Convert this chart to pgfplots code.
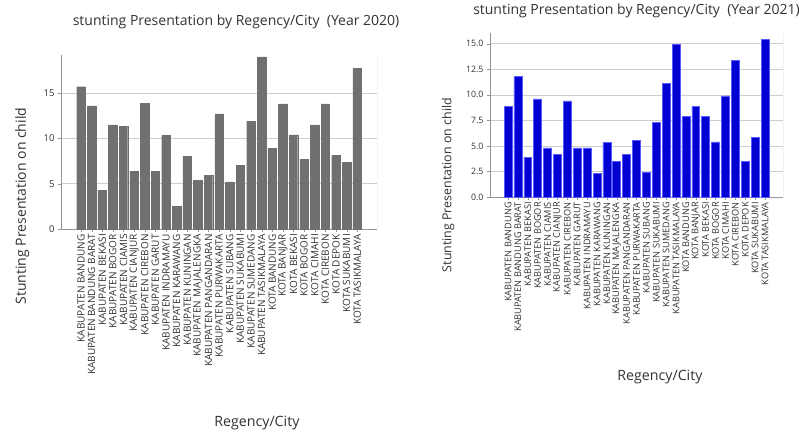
\documentclass[border=0pt]{standalone}
\usepackage{pgfplots}
\pgfplotsset{compat=1.18}
\usepackage{fontspec}
\setmainfont{Open Sans}
\definecolor{bargray}{RGB}{112,112,112}
\definecolor{barblue}{RGB}{0,0,210}
\definecolor{edgeblue}{RGB}{90,90,255}
\definecolor{gridc}{RGB}{205,205,205}
\definecolor{spine}{RGB}{150,150,150}
\definecolor{txt}{RGB}{50,50,50}
\begin{document}
\begin{tikzpicture}
\path[use as bounding box] (0pt,0pt) rectangle (802pt,432pt);
\pgfplotsset{
  common/.style={
    scale only axis,
    axis x line*=bottom, axis y line*=left,
    axis line style={-, draw=spine},
    ybar, ymin=0,
    xtick=data,
    xticklabels={KABUPATEN BANDUNG,KABUPATEN BANDUNG BARAT,KABUPATEN BEKASI,KABUPATEN BOGOR,KABUPATEN CIAMIS,KABUPATEN CIANJUR,KABUPATEN CIREBON,KABUPATEN GARUT,KABUPATEN INDRAMAYU,KABUPATEN KARAWANG,KABUPATEN KUNINGAN,KABUPATEN MAJALENGKA,KABUPATEN PANGANDARAN,KABUPATEN PURWAKARTA,KABUPATEN SUBANG,KABUPATEN SUKABUMI,KABUPATEN SUMEDANG,KABUPATEN TASIKMALAYA,KOTA BANDUNG,KOTA BANJAR,KOTA BEKASI,KOTA BOGOR,KOTA CIMAHI,KOTA CIREBON,KOTA DEPOK,KOTA SUKABUMI,KOTA TASIKMALAYA},
    x tick label style={rotate=90, anchor=east, font=\fontsize{10}{10}\selectfont, text=txt, inner sep=2pt},
    y tick label style={font=\fontsize{9.5}{10}\selectfont, text=txt},
    /pgf/number format/assume math mode=true,
    tick align=outside, major tick length=3pt,
    tick style={draw=spine},
    ymajorgrids, grid style={draw=gridc, line width=0.6pt},
    bar width=0.8, bar shift=0pt,
    label style={text=txt},
  }
}
\begin{axis}[common,
  at={(61pt,203pt)}, anchor=south west,
  width=316pt, height=174pt,
  xmin=-1.88, xmax=27.86, ymax=19.2,
  ytick={0,5,10,15},
  title={stunting Presentation by Regency/City\ \ (Year 2020)},
  title style={at={(axis description cs:0.554,1.155)}, anchor=center, font=\fontsize{14}{15}\selectfont, text=txt},
  xlabel={Regency/City},
  xlabel style={at={(axis description cs:0.62,-1.115)}, anchor=center, font=\fontsize{14.2}{15}\selectfont},
  ylabel={Stunting Presentation on child},
  ylabel style={at={(axis description cs:-0.123,0.132)}, anchor=center, font=\fontsize{14}{15}\selectfont},
]
\addplot[fill=bargray, draw=bargray] coordinates {
(0,15.7) (1,13.6) (2,4.3) (3,11.5) (4,11.3) (5,6.4) (6,13.9) (7,6.4) (8,10.3)
(9,2.5) (10,8.0) (11,5.4) (12,5.9) (13,12.7) (14,5.2) (15,7.0) (16,11.9) (17,19.0)
(18,8.9) (19,13.8) (20,10.4) (21,7.7) (22,11.5) (23,13.8) (24,8.1) (25,7.35) (26,17.7)};
\draw[spine] (rel axis cs:1,0) -- (rel axis cs:1,1);
\end{axis}
\begin{axis}[common,
  at={(490pt,235pt)}, anchor=south west,
  width=293pt, height=164pt,
  xmin=-1.82, xmax=27.82, ymax=16.05,
  ytick={0,2.5,5,7.5,10,12.5,15},
  yticklabel style={/pgf/number format/fixed, /pgf/number format/fixed zerofill, /pgf/number format/precision=1},
  x tick label style={font=\fontsize{9.2}{9}\selectfont},
  y tick label style={font=\fontsize{8.8}{9}\selectfont},
  title={stunting Presentation by Regency/City\ \ (Year 2021)},
  title style={at={(axis description cs:0.50,1.098)}, anchor=center, font=\fontsize{14}{15}\selectfont, text=txt},
  xlabel={Regency/City},
  xlabel style={at={(axis description cs:0.58,-1.10)}, anchor=center, font=\fontsize{14.2}{15}\selectfont},
  ylabel={Stunting Presentation on child},
  ylabel style={at={(axis description cs:-0.143,0.073)}, anchor=center, font=\fontsize{12.4}{13}\selectfont},
]
\addplot[fill=barblue, draw=edgeblue, line width=0.6pt] coordinates {
(0,8.87) (1,11.8) (2,3.9) (3,9.6) (4,4.8) (5,4.2) (6,9.4) (7,4.8) (8,4.8)
(9,2.3) (10,5.35) (11,3.45) (12,4.2) (13,5.55) (14,2.4) (15,7.3) (16,11.1) (17,14.9)
(18,7.9) (19,8.87) (20,7.9) (21,5.4) (22,9.9) (23,13.4) (24,3.45) (25,5.87) (26,15.45)};
\draw[spine] (rel axis cs:1,0) -- (rel axis cs:1,1);
\end{axis}
\end{tikzpicture}
\end{document}
